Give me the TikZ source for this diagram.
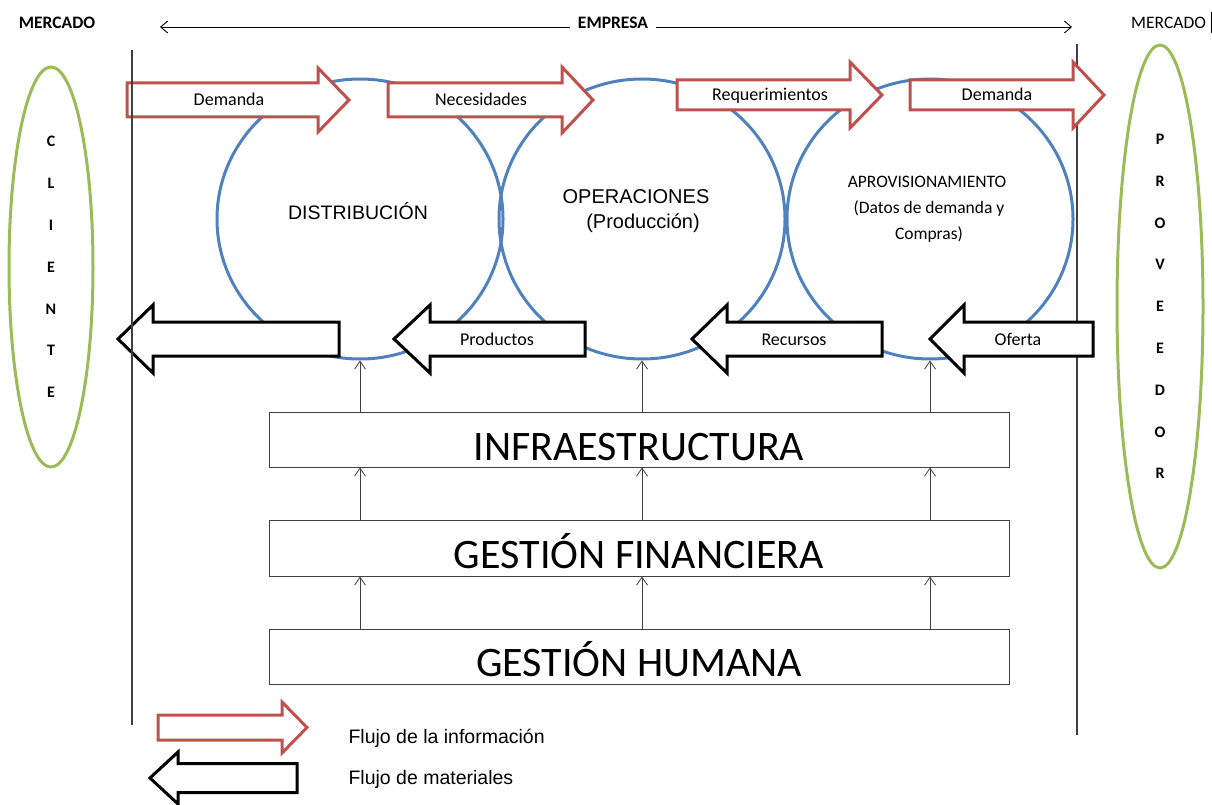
\documentclass[tikz,border=0pt]{standalone}
\usepackage{fontspec}
\setmainfont{Carlito}
\newfontfamily\arialfont{Liberation Sans}
\usetikzlibrary{arrows.meta,shapes.geometric}

\definecolor{infored}{HTML}{C0504D}
\definecolor{blueline}{HTML}{4F81BD}
\definecolor{greenline}{HTML}{9BBB59}
\definecolor{rulegray}{HTML}{404040}

\newcommand{\fsz}[1]{\fontsize{#1}{#1}\selectfont}
% block arrow: style, back end x, head base x, tip x, centre y, half body, half head
\newcommand{\blockarrow}[7]{%
  \draw[#1] (#2,#5-#6) -- (#3,#5-#6) -- (#3,#5-#7) -- (#4,#5)
            -- (#3,#5+#7) -- (#3,#5+#6) -- (#2,#5+#6) -- cycle;}

\tikzset{
  info/.style={draw=infored, line width=3pt, fill=white, line join=miter},
  mat/.style={draw=black, line width=3pt, fill=white, line join=miter},
  area/.style={ellipse, draw=blueline, line width=3pt, minimum width=286pt,
               minimum height=280pt, inner sep=0pt},
  party/.style={ellipse, draw=greenline, line width=3pt, inner sep=0pt,
                align=center, font=\bfseries\fontsize{16}{41.8}\selectfont},
  layer/.style={draw=rulegray, line width=1pt, minimum width=740pt,
                minimum height=55pt, inner sep=0pt},
  layertext/.style={anchor=base, font=\fsz{42}},
  flowlabel/.style={anchor=base, font=\fsz{18}},
  up/.style={-{Straight Barb[length=8pt,width=11pt]}, line width=0.8pt, draw=rulegray},
  border/.style={draw=rulegray, line width=1.2pt},
}

\begin{document}
\begin{tikzpicture}[x=1pt, y=-1pt]
\useasboundingbox (0,0) rectangle (1212,805);

% header
\node[anchor=base, font=\bfseries\fsz{17.5}] (mercL) at (57,29) {MERCADO};
\node[anchor=base, font=\fsz{17.5}] (mercR) at (1168.5,29) {MERCADO};
\draw[line width=1.6pt] ([xshift=2pt]mercR.east |- 0,12) -- ([xshift=2pt]mercR.east |- 0,33);
\coordinate (empL) at (160,27);
\coordinate (empR) at (1072,27);
\draw[{Straight Barb[length=7pt,width=12pt]}-{Straight Barb[length=7pt,width=12pt]}, line width=0.9pt]
  (empL) -- (empR);
\node[anchor=base, font=\bfseries\fsz{17.5}, fill=white, inner xsep=8pt] (emp) at (613,29) {EMPRESA};

% company boundary (right side, behind the flows)
\coordinate (bR1) at (1077,44);
\coordinate (bR2) at (1077,735);
\draw[border] (bR1) -- (bR2);

% customer and supplier
\node[party, minimum width=84pt, minimum height=400pt] (cliente) at (51,267)
  {C\\L\\I\\E\\N\\T\\E};
\node[party, minimum width=86pt, minimum height=523pt] (proveedor) at (1160,306.5)
  {P\\R\\O\\V\\E\\E\\D\\O\\R};

% functional areas
\node[area] (dist) at (360,219) {};
\node[area] (oper) at (642,219) {};
\node[area] (aprov) at (930,219) {};
\node[anchor=base, font=\arialfont\fsz{19.5}] (distT) at (358,219) {DISTRIBUCIÓN};
\node[anchor=base, font=\arialfont\fsz{20}] (operT1) at (636,204) {OPERACIONES};
\node[anchor=base, font=\arialfont\fsz{20}] (operT2) at (643,229) {(Producción)};
\node[anchor=base, font=\fsz{17.5}] (aprovT1) at (927,188) {APROVISIONAMIENTO};
\node[anchor=base, font=\fsz{17.5}] (aprovT2) at (929,214) {(Datos de demanda y};
\node[anchor=base, font=\fsz{17.5}] (aprovT3) at (929,239) {Compras)};

% information flows
\blockarrow{info}{127}{318}{349}{100}{17}{32}
\blockarrow{info}{388}{562}{593}{100}{17}{33}
\blockarrow{info}{677}{850}{882}{95}{15}{33}
\blockarrow{info}{910}{1073}{1104}{95}{15}{33}
\node[flowlabel] (f1) at (229,106) {Demanda};
\node[flowlabel] (f2) at (481,106) {Necesidades};
\node[flowlabel] (f3) at (770,101) {Requerimientos};
\node[flowlabel] (f4) at (997,101) {Demanda};

% material flows
\blockarrow{mat}{339}{153}{118}{339}{17}{34}
\blockarrow{mat}{585}{430}{394}{339}{17}{34}
\blockarrow{mat}{882}{727}{692}{339}{17}{34}
\blockarrow{mat}{1093}{964}{930}{339}{17}{34}
\node[flowlabel] (m2) at (497,345) {Productos};
\node[flowlabel] (m3) at (794,345) {Recursos};
\node[flowlabel] (m4) at (1018,345) {Oferta};

% company boundary (left side)
\coordinate (bL1) at (132,50);
\coordinate (bL2) at (132,725);
\draw[border] (bL1) -- (bL2);

% support layers
\node[layer] (infra) at (639,439.5) {};
\node[layer, minimum height=56pt] (fin) at (639,548) {};
\node[layer] (hum) at (639,656.5) {};
\node[layertext] (infraT) at (639,460) {INFRAESTRUCTURA};
\node[layertext] (finT) at (639,568) {GESTIÓN FINANCIERA};
\node[layertext] (humT) at (639,676) {GESTIÓN HUMANA};

\foreach \c in {dist,oper,aprov}{
  \draw[up] (infra.north -| \c.south) -- (\c.south);
  \draw[up] (fin.north -| \c.south) -- (infra.south -| \c.south);
  \draw[up] (hum.north -| \c.south) -- (fin.south -| \c.south);
}

% legend
\blockarrow{info}{158}{282}{307}{727.5}{12.5}{25.5}
\blockarrow{mat}{297}{178}{150}{778}{14.5}{26}
\node[anchor=base west, font=\arialfont\fsz{19.5}] (legInfo) at (345,743) {Flujo de la información};
\node[anchor=base west, font=\arialfont\fsz{19.5}] (legMat) at (345,784) {Flujo de materiales};
\end{tikzpicture}
\end{document}
